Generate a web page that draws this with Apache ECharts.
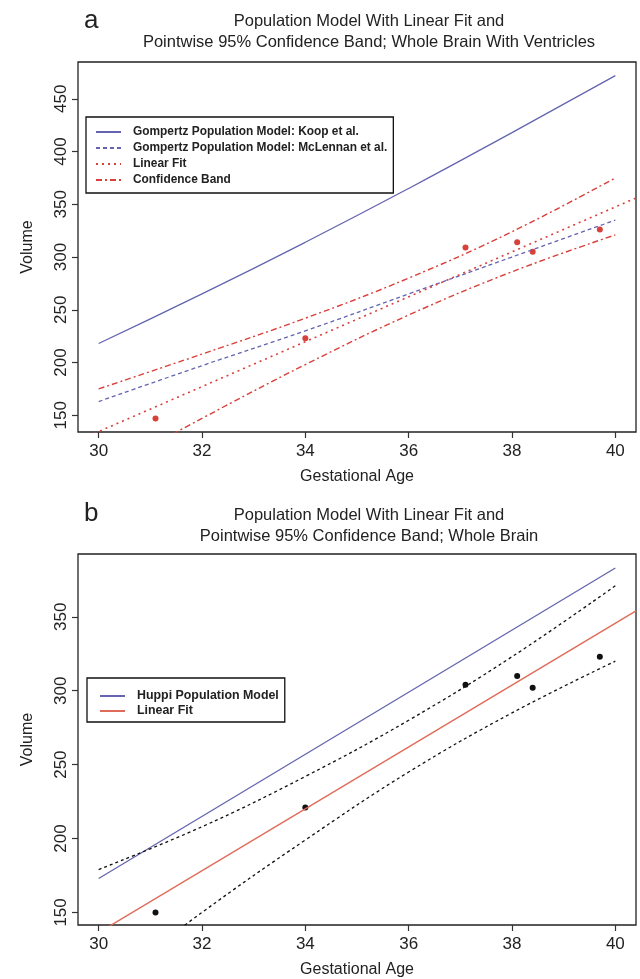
<!DOCTYPE html>
<html>
<head>
<meta charset="utf-8">
<title>Population model with linear fit</title>
<script src="https://cdn.jsdelivr.net/npm/echarts@6.0.0/dist/echarts.min.js"></script>
<style>
  html, body { margin: 0; padding: 0; background: #fff; }
  #chart { width: 640px; height: 979px; }
</style>
</head>
<body>
<div id="chart"></div>
<script>
// gestational age of the six scans (same in both panels)
const ages = [31.1, 34.0, 37.1, 38.1, 38.4, 39.7];
const curveAges = [30, 32, 34, 36, 38, 40];
const fitAges = [29.6, 40.4];

// panel a: whole brain with ventricles
const volumeA = [147, 223, 309, 314, 305, 326];
const koopA = [218, 265, 314, 365, 418, 472];
const mclennanA = [163, 197, 230, 265, 300, 335];
const fitA = [126, 356];
const bandUpperA = [175, 208, 242, 280, 324, 375];
const bandLowerA = [94, 147, 198, 245, 286, 321];

// panel b: whole brain
const volumeB = [150, 221, 304, 310, 302, 323];
const huppiAges = [30, 40];
const huppiB = [173, 383];
const fitB = [128, 354];
const bandUpperB = [179, 208, 242, 280, 323, 371];
const bandLowerB = [97, 150, 199, 245, 285, 320];

const xTicks = [30, 32, 34, 36, 38, 40];
const yTicksA = [150, 200, 250, 300, 350, 400, 450];
const yTicksB = [150, 200, 250, 300, 350];

const blue = '#6464b0';
const red = '#d8403a';
const font = 'Liberation Sans, Arial, sans-serif';

function pairs(xs, ys) {
  return xs.map((x, i) => [x, ys[i]]);
}

function xAxisFor(gridIndex) {
  return {
    gridIndex: gridIndex,
    type: 'value',
    min: 29.6,
    max: 40.4,
    name: 'Gestational Age',
    nameLocation: 'middle',
    nameGap: 37,
    nameTextStyle: { fontSize: 16, color: '#222', fontFamily: font },
    axisLine: { show: false },
    axisTick: { show: true, length: 6, customValues: xTicks, lineStyle: { color: '#333', width: 1.2 } },
    axisLabel: { customValues: xTicks, fontSize: 17, color: '#222', margin: 11, fontFamily: font },
    splitLine: { show: false }
  };
}

function yAxisFor(gridIndex, min, max, ticks) {
  return {
    gridIndex: gridIndex,
    type: 'value',
    min: min,
    max: max,
    name: 'Volume',
    nameLocation: 'middle',
    nameRotate: 90,
    nameGap: 42,
    nameTextStyle: { fontSize: 16, color: '#222', fontFamily: font },
    axisLine: { show: false },
    axisTick: { show: true, length: 6, customValues: ticks, lineStyle: { color: '#333', width: 1.2 } },
    axisLabel: { customValues: ticks, rotate: 90, fontSize: 17, color: '#222', margin: 8, fontFamily: font },
    splitLine: { show: false }
  };
}

// smooth: true for the Gompertz curve, a softer value for the bands
function line(name, axis, data, color, type, width, smooth) {
  return {
    name: name,
    type: 'line',
    xAxisIndex: axis,
    yAxisIndex: axis,
    data: data,
    showSymbol: false,
    symbol: 'none',
    smooth: smooth || false,
    clip: true,
    silent: true,
    itemStyle: { color: color },
    lineStyle: { color: color, width: width || 1.3, type: type }
  };
}

function legendBox(names, left, top, padding, gap, size) {
  return {
    data: names,
    orient: 'vertical', left: left, top: top,
    itemWidth: 25, itemHeight: 12, itemGap: gap,
    padding: padding,
    borderColor: '#111', borderWidth: 1.3,
    selectedMode: false,
    itemStyle: { opacity: 0 },
    formatter: name => name.trim(),
    textStyle: { fontSize: size, fontWeight: 'bold', color: '#222', fontFamily: font, padding: [0, 0, 0, 7] }
  };
}

const chart = echarts.init(document.getElementById('chart'), null, { renderer: 'canvas' });

const option = {
  backgroundColor: '#fff',
  animation: false,
  textStyle: { fontFamily: font },
  title: [
    { text: 'a', left: 79, top: 3, textStyle: { fontSize: 26, fontWeight: 'normal', color: '#222', fontFamily: font } },
    {
      text: 'Population Model With Linear Fit and\nPointwise 95% Confidence Band; Whole Brain With Ventricles',
      left: 364, top: 6, textAlign: 'center',
      textStyle: { fontSize: 16.5, fontWeight: 'normal', lineHeight: 21, color: '#222', fontFamily: font }
    },
    { text: 'b', left: 79, top: 496, textStyle: { fontSize: 26, fontWeight: 'normal', color: '#222', fontFamily: font } },
    {
      text: 'Population Model With Linear Fit and\nPointwise 95% Confidence Band; Whole Brain',
      left: 364, top: 500, textAlign: 'center',
      textStyle: { fontSize: 16.5, fontWeight: 'normal', lineHeight: 21, color: '#222', fontFamily: font }
    }
  ],
  legend: [
    legendBox(['Gompertz Population Model: Koop et al.', 'Gompertz Population Model: McLennan et al.', 'Linear Fit', 'Confidence Band'],
      86, 117, [9, 6, 7, 9], 4, 11.9),
    legendBox(['Huppi Population Model', 'Linear Fit '], 87, 678, [12, 6, 5, 12], 3, 12.4)
  ],
  grid: [
    { left: 78, top: 62, width: 558, height: 370, show: true, borderColor: '#222', borderWidth: 1.3, backgroundColor: 'transparent' },
    { left: 78, top: 554, width: 558, height: 380, show: true, borderColor: '#222', borderWidth: 1.3, backgroundColor: 'transparent' }
  ],
  xAxis: [xAxisFor(0), xAxisFor(1)],
  yAxis: [yAxisFor(0, 134.1, 484.9, yTicksA), yAxisFor(1, 141.5, 392.5, yTicksB)],
  series: [
    line('Gompertz Population Model: Koop et al.', 0, pairs(curveAges, koopA), blue, 'solid', 1.3, true),
    line('Gompertz Population Model: McLennan et al.', 0, pairs(curveAges, mclennanA), blue, [4, 3], 1.3, 0.4),
    line('Linear Fit', 0, pairs(fitAges, fitA), red, [2, 4], 1.6),
    line('Confidence Band', 0, pairs(curveAges, bandUpperA), red, [6, 3, 2, 3], 1.4, 0.4),
    line('Confidence Band', 0, pairs(curveAges, bandLowerA), red, [6, 3, 2, 3], 1.4, 0.4),
    {
      name: 'volume a', type: 'scatter', xAxisIndex: 0, yAxisIndex: 0,
      data: pairs(ages, volumeA), symbolSize: 6, itemStyle: { color: red, opacity: 1 }
    },
    line('Huppi Population Model', 1, pairs(huppiAges, huppiB), blue, 'solid', 1.3),
    line('Linear Fit ', 1, pairs(fitAges, fitB), '#e06a58', 'solid', 1.4),
    line('band b upper', 1, pairs(curveAges, bandUpperB), '#111', [3, 3], 1.3, 0.4),
    line('band b lower', 1, pairs(curveAges, bandLowerB), '#111', [3, 3], 1.3, 0.4),
    {
      name: 'volume b', type: 'scatter', xAxisIndex: 1, yAxisIndex: 1,
      data: pairs(ages, volumeB), symbolSize: 6, itemStyle: { color: '#111', opacity: 1 }
    }
  ]
};

chart.setOption(option);
</script>
</body>
</html>
